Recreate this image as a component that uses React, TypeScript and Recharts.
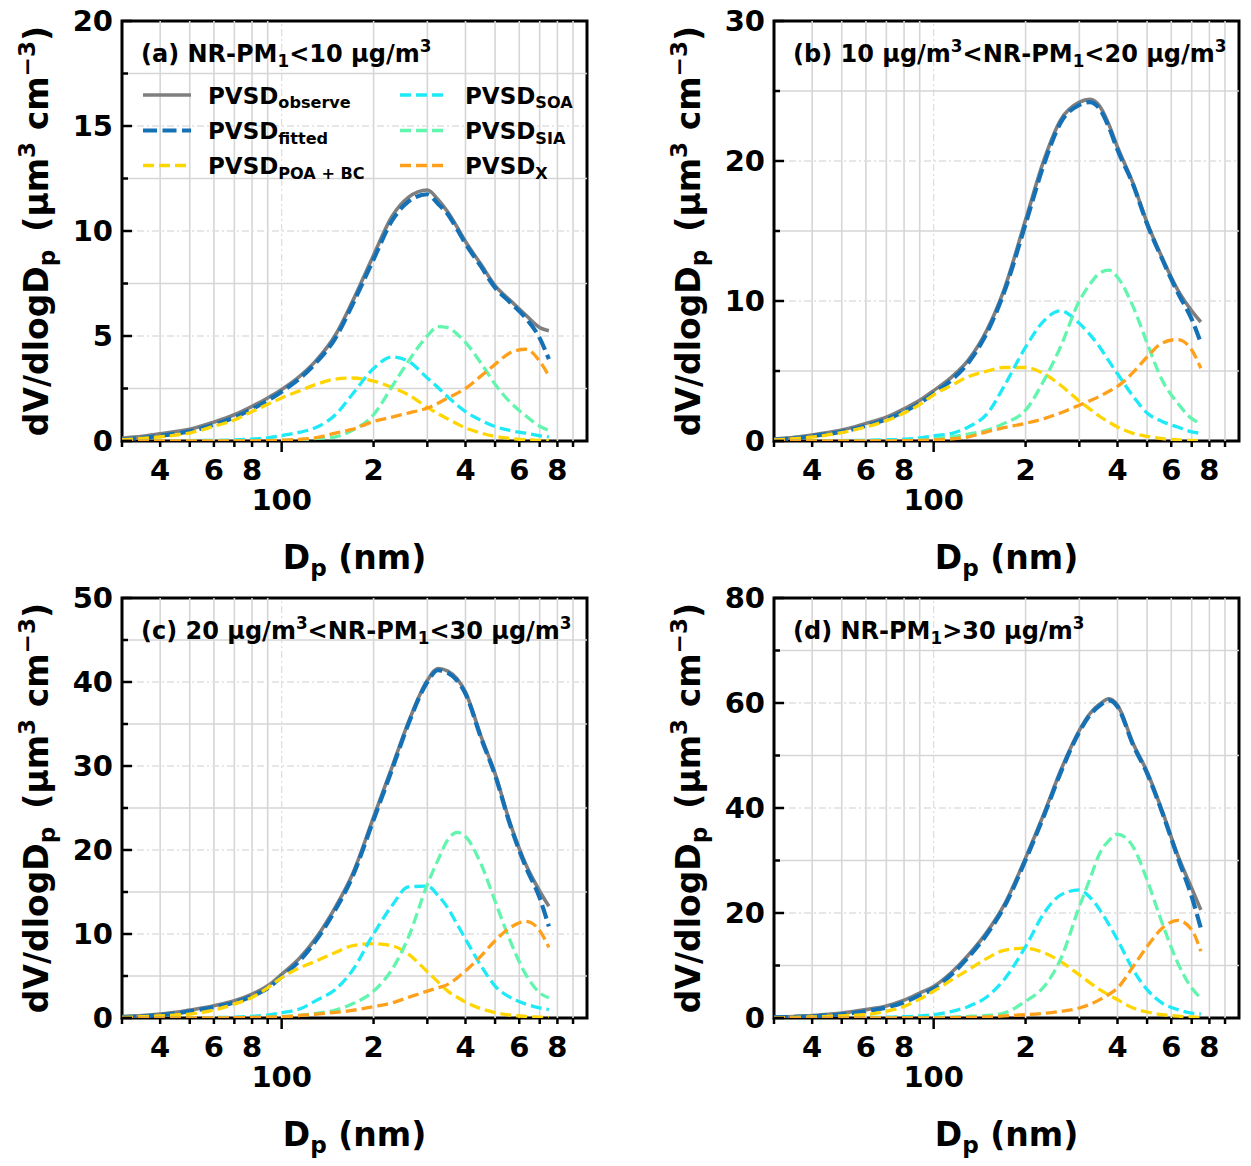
import React from 'react';
import { LineChart, Line, XAxis, YAxis, ReferenceLine, ReferenceArea } from 'recharts';

const FONT = '"DejaVu Sans", sans-serif';

// particle diameter (nm), shared by all four panels
const diameters = [30, 35, 40, 45, 50, 60, 70, 80, 90, 100, 115, 130, 150, 170, 200, 230, 260, 300, 325, 350, 375, 400, 450, 500, 560, 630, 700, 750];

// (a) NR-PM1 < 10
const observeA = [0.13, 0.22, 0.34, 0.45, 0.56, 0.9, 1.25, 1.65, 2.05, 2.45, 3.1, 3.85, 5.05, 6.6, 8.85, 10.7, 11.6, 11.95, 11.5, 10.9, 10.2, 9.5, 8.4, 7.4, 6.7, 6.0, 5.4, 5.25];
const fittedA = [0.08, 0.15, 0.25, 0.35, 0.46, 0.78, 1.12, 1.52, 1.93, 2.35, 3.0, 3.75, 4.9, 6.45, 8.65, 10.5, 11.4, 11.75, 11.3, 10.8, 10.1, 9.4, 8.3, 7.3, 6.6, 5.85, 4.9, 3.9];
const poaA = [0.06, 0.12, 0.2, 0.28, 0.38, 0.7, 1.0, 1.4, 1.75, 2.05, 2.4, 2.7, 2.95, 3.0, 2.85, 2.55, 2.2, 1.6, 1.3, 1.05, 0.82, 0.62, 0.38, 0.22, 0.12, 0.06, 0.03, 0.02];
const soaA = [0, 0, 0.01, 0.01, 0.02, 0.03, 0.05, 0.09, 0.15, 0.26, 0.42, 0.65, 1.25, 2.2, 3.45, 4.0, 3.8, 3.0, 2.55, 2.1, 1.72, 1.4, 0.98, 0.69, 0.5, 0.37, 0.25, 0.2];
const siaA = [0, 0, 0, 0, 0, 0, 0, 0.01, 0.02, 0.03, 0.06, 0.12, 0.2, 0.5, 1.25, 2.6, 3.8, 5.0, 5.45, 5.4, 5.1, 4.7, 3.7, 2.7, 1.85, 1.2, 0.7, 0.5];
const xA = [0, 0, 0, 0, 0, 0, 0.01, 0.01, 0.02, 0.04, 0.08, 0.16, 0.37, 0.55, 0.93, 1.14, 1.33, 1.57, 1.8, 2.05, 2.27, 2.5, 3.1, 3.65, 4.2, 4.37, 3.8, 3.1];

// (b) 10 < NR-PM1 < 20
const observeB = [0.14, 0.26, 0.43, 0.6, 0.78, 1.26, 1.7, 2.3, 2.9, 3.6, 4.6, 5.8, 8.0, 10.8, 15.8, 20.1, 22.9, 24.2, 24.4, 23.9, 22.6, 21.0, 18.4, 15.6, 13.1, 10.8, 9.3, 8.5];
const fittedB = [0.1, 0.2, 0.35, 0.5, 0.66, 1.1, 1.55, 2.1, 2.7, 3.4, 4.4, 5.6, 7.8, 10.6, 15.5, 19.8, 22.7, 24.0, 24.2, 23.7, 22.4, 20.8, 18.3, 15.5, 13.0, 10.6, 8.7, 7.0];
const poaB = [0.08, 0.16, 0.28, 0.43, 0.6, 1.0, 1.45, 2.0, 2.6, 3.3, 4.0, 4.6, 5.0, 5.25, 5.25, 4.8, 4.0, 2.85, 2.28, 1.75, 1.35, 1.0, 0.55, 0.33, 0.17, 0.08, 0.04, 0.02];
const soaB = [0, 0, 0.01, 0.02, 0.03, 0.05, 0.08, 0.13, 0.22, 0.36, 0.55, 1.0, 1.97, 3.9, 6.7, 8.6, 9.3, 8.4, 7.6, 6.7, 5.7, 4.8, 3.2, 2.0, 1.4, 1.0, 0.65, 0.55];
const siaB = [0, 0, 0, 0, 0, 0.01, 0.02, 0.04, 0.07, 0.15, 0.3, 0.5, 0.78, 1.26, 2.2, 4.35, 6.7, 10.0, 11.2, 12.0, 12.2, 11.7, 9.6, 7.0, 4.35, 2.7, 1.6, 1.26];
const xB = [0, 0, 0, 0, 0, 0, 0.01, 0.02, 0.04, 0.07, 0.15, 0.3, 0.67, 0.95, 1.26, 1.6, 2.0, 2.56, 2.88, 3.2, 3.55, 3.9, 4.9, 6.0, 7.0, 7.25, 6.5, 5.2];

// (c) 20 < NR-PM1 < 30
const observeC = [0.16, 0.28, 0.47, 0.67, 0.95, 1.46, 2.05, 2.85, 3.83, 5.2, 7.2, 9.6, 13.2, 17.0, 23.9, 29.9, 35.2, 40.2, 41.6, 41.3, 40.4, 38.8, 33.5, 29.1, 23.2, 18.3, 15.1, 13.3];
const fittedC = [0.1, 0.2, 0.36, 0.55, 0.8, 1.3, 1.85, 2.6, 3.55, 4.9, 6.9, 9.3, 12.9, 16.7, 23.6, 29.6, 35.0, 40.0, 41.4, 41.1, 40.2, 38.6, 33.3, 28.9, 23.0, 18.0, 14.3, 10.9];
const poaC = [0.08, 0.15, 0.25, 0.36, 0.47, 0.95, 1.66, 2.45, 3.6, 4.8, 6.0, 6.8, 7.8, 8.6, 8.85, 8.6, 7.6, 5.5, 4.3, 3.2, 2.5, 1.9, 1.1, 0.65, 0.35, 0.18, 0.1, 0.06];
const soaC = [0, 0, 0.01, 0.01, 0.02, 0.05, 0.1, 0.2, 0.35, 0.63, 1.1, 2.1, 3.4, 5.6, 10.0, 13.4, 15.6, 15.7, 14.6, 13.1, 11.2, 9.4, 6.2, 3.8, 2.45, 1.66, 1.2, 1.0];
const siaC = [0, 0, 0, 0, 0, 0.01, 0.03, 0.06, 0.1, 0.18, 0.32, 0.55, 0.95, 1.66, 3.2, 5.8, 9.6, 15.9, 18.8, 21.2, 22.1, 21.6, 18.3, 13.9, 9.2, 5.2, 3.0, 2.4];
const xC = [0, 0, 0, 0, 0, 0.01, 0.03, 0.06, 0.1, 0.15, 0.3, 0.47, 0.67, 0.9, 1.34, 1.8, 2.45, 3.2, 3.6, 4.0, 4.75, 5.6, 7.4, 9.2, 10.75, 11.5, 10.4, 8.4];

// (d) NR-PM1 > 30
const observeD = [0.2, 0.3, 0.45, 0.7, 0.95, 1.6, 2.3, 3.4, 4.75, 6.0, 8.8, 12.0, 16.5, 21.5, 30.5, 39.0, 47.0, 54.8, 58.0, 59.8, 60.8, 59.6, 52.3, 46.9, 39.5, 31.0, 24.7, 20.6];
const fittedD = [0.1, 0.2, 0.32, 0.5, 0.72, 1.3, 2.0, 3.0, 4.3, 5.6, 8.4, 11.6, 16.1, 21.1, 30.1, 38.6, 46.6, 54.5, 57.7, 59.5, 60.5, 59.3, 52.0, 46.6, 39.2, 30.6, 23.1, 17.1];
const poaD = [0.06, 0.12, 0.2, 0.3, 0.42, 0.65, 1.27, 2.2, 3.6, 5.1, 7.3, 9.2, 11.4, 12.9, 13.3, 12.4, 10.8, 8.2, 6.7, 5.4, 4.4, 3.5, 1.9, 1.14, 0.63, 0.35, 0.2, 0.12];
const soaD = [0, 0, 0, 0.01, 0.03, 0.08, 0.15, 0.25, 0.4, 0.63, 1.27, 2.2, 4.1, 7.3, 13.6, 20.0, 23.4, 24.4, 23.0, 20.6, 17.8, 14.9, 9.2, 5.4, 2.85, 1.6, 0.95, 0.76];
const siaD = [0, 0, 0, 0, 0, 0, 0.01, 0.03, 0.06, 0.1, 0.18, 0.3, 0.5, 0.95, 3.2, 6.0, 11.1, 21.2, 26.5, 31.4, 33.8, 35.0, 32.6, 26.3, 18.1, 10.5, 5.7, 3.8];
const xD = [0, 0, 0, 0, 0, 0, 0, 0, 0.01, 0.03, 0.05, 0.1, 0.2, 0.4, 0.63, 0.9, 1.27, 1.9, 2.6, 3.5, 4.5, 5.7, 9.8, 13.6, 17.1, 18.6, 16.8, 12.7];

// axis ticks
const xTicks = [30, 40, 50, 60, 70, 80, 90, 100, 200, 300, 400, 500, 600, 700, 800, 900];
const xTickLabels: Record<number, string> = { 40: '4', 60: '6', 80: '8', 200: '2', 400: '4', 600: '6', 800: '8' };
const yTicksA = [0, 2.5, 5, 7.5, 10, 12.5, 15, 17.5, 20];
const yTicksB = [0, 5, 10, 15, 20, 25, 30];
const yTicksC = [0, 5, 10, 15, 20, 25, 30, 35, 40, 45, 50];
const yTicksD = [0, 10, 20, 30, 40, 50, 60, 70, 80];

type Part = [string, '' | 'sub' | 'sup'];

const titleA: Part[] = [['(a) NR-PM', ''], ['1', 'sub'], ['<10 μg/m', ''], ['3', 'sup']];
const titleB: Part[] = [['(b) 10 μg/m', ''], ['3', 'sup'], ['<NR-PM', ''], ['1', 'sub'], ['<20 μg/m', ''], ['3', 'sup']];
const titleC: Part[] = [['(c) 20 μg/m', ''], ['3', 'sup'], ['<NR-PM', ''], ['1', 'sub'], ['<30 μg/m', ''], ['3', 'sup']];
const titleD: Part[] = [['(d) NR-PM', ''], ['1', 'sub'], ['>30 μg/m', ''], ['3', 'sup']];

const series = [
  { key: 'observe', sub: 'observe', color: '#7f7f7f', width: 3.6, dash: undefined as string | undefined },
  { key: 'fitted', sub: 'fitted', color: '#1571b6', width: 4.2, dash: '14 5.5' },
  { key: 'poa', sub: 'POA + BC', color: '#ffd500', width: 3.3, dash: '11 5' },
  { key: 'soa', sub: 'SOA', color: '#1ee9f7', width: 3.3, dash: '11 5' },
  { key: 'sia', sub: 'SIA', color: '#62f5ad', width: 3.3, dash: '11 5' },
  { key: 'x', sub: 'X', color: '#ffa01a', width: 3.3, dash: '11 5' },
];

const panels = [
  { id: 'a', left: 0, top: 0, yMax: 20, yStep: 5, yTicks: yTicksA, title: titleA, values: [observeA, fittedA, poaA, soaA, siaA, xA], legend: true },
  { id: 'b', left: 652, top: 0, yMax: 30, yStep: 10, yTicks: yTicksB, title: titleB, values: [observeB, fittedB, poaB, soaB, siaB, xB], legend: false },
  { id: 'c', left: 0, top: 577, yMax: 50, yStep: 10, yTicks: yTicksC, title: titleC, values: [observeC, fittedC, poaC, soaC, siaC, xC], legend: false },
  { id: 'd', left: 652, top: 577, yMax: 80, yStep: 20, yTicks: yTicksD, title: titleD, values: [observeD, fittedD, poaD, soaD, siaD, xD], legend: false },
];

const W = 600;
const H = 600;
const PLOT_LEFT = 122;
const PLOT_TOP = 21;
const PLOT_W = 465;
const PLOT_H = 420;

function rich(parts: Part[], size: number) {
  let off = 0;
  return parts.map(([t, k], i) => {
    const target = k === 'sub' ? size * 0.2 : k === 'sup' ? -size * 0.4 : 0;
    const dy = target - off;
    off = target;
    return (
      <tspan key={i} dy={dy} fontSize={k ? size * 0.7 : size} style={{ whiteSpace: 'pre' }}>
        {t}
      </tspan>
    );
  });
}

function XTick(props: any) {
  const { x, y, payload } = props;
  const v = payload.value;
  const label = xTickLabels[v];
  const major = v === 100;
  return (
    <g>
      <line x1={x} x2={x} y1={y} y2={y + (major ? 11 : 6)} stroke="#000" strokeWidth={2.5} />
      {label && (
        <text x={x} y={y + 39} textAnchor="middle" fontFamily={FONT} fontWeight="bold" fontSize={29} fill="#000">
          {label}
        </text>
      )}
      {major && (
        <text x={x} y={y + 69} textAnchor="middle" fontFamily={FONT} fontWeight="bold" fontSize={29} fill="#000">
          100
        </text>
      )}
    </g>
  );
}

function YTick(props: any, step: number) {
  const { x, y, payload } = props;
  const v = payload.value;
  const major = Math.abs(v / step - Math.round(v / step)) < 1e-6;
  return (
    <g>
      <line x1={x} x2={x + (major ? 10 : 6)} y1={y} y2={y} stroke="#000" strokeWidth={2.5} />
      {major && (
        <text x={x - 9} y={y} dy="0.36em" textAnchor="end" fontFamily={FONT} fontWeight="bold" fontSize={29} fill="#000">
          {v}
        </text>
      )}
    </g>
  );
}

const xLabel: Part[] = [['D', ''], ['p', 'sub'], [' (nm)', '']];
const yLabel: Part[] = [['dV/dlogD', ''], ['p', 'sub'], [' \u2009(μm', ''], ['3', 'sup'], [' cm', ''], ['−3', 'sup'], [')', '']];

function XLabel(props: any) {
  const vb = props.viewBox;
  return (
    <text x={vb.x + vb.width / 2} y={vb.y + 128} textAnchor="middle" fontFamily={FONT} fontWeight="bold" fill="#000">
      {rich(xLabel, 33)}
    </text>
  );
}

function YLabel(props: any) {
  const vb = props.viewBox;
  const bx = 48;
  const cy = vb.y + vb.height / 2;
  return (
    <text x={bx} y={cy} transform={`rotate(-90, ${bx}, ${cy})`} textAnchor="middle" fontFamily={FONT} fontWeight="bold" fill="#000">
      {rich(yLabel, 33)}
    </text>
  );
}

function Legend() {
  const rows = [95, 130.5, 165.5];
  const cols = [143, 400];
  return (
    <g>
      {series.map((s, i) => {
        const col = i < 3 ? 0 : 1;
        const y = rows[i % 3];
        const x = cols[col];
        return (
          <g key={s.key}>
            <line x1={x} x2={x + 48} y1={y} y2={y} stroke={s.color} strokeWidth={s.width} strokeDasharray={s.dash} />
            <text x={x + 65} y={y + 8.5} fontFamily={FONT} fontWeight="bold" fill="#000">
              {rich([['PVSD', ''], [s.sub, 'sub']], 23)}
            </text>
          </g>
        );
      })}
    </g>
  );
}

function Panel({ panel }: { panel: (typeof panels)[number] }) {
  const data = diameters.map((d, i) => {
    const row: Record<string, number> = { d };
    series.forEach((s, j) => {
      row[s.key] = panel.values[j][i];
    });
    return row;
  });
  const gridY = panel.yTicks.slice(1, -1);
  const gridX = xTicks.slice(1);

  return (
    <div style={{ position: 'absolute', left: panel.left, top: panel.top, width: W, height: H }}>
      <LineChart width={W} height={H} data={data} margin={{ top: PLOT_TOP, right: W - PLOT_LEFT - PLOT_W, bottom: 0, left: 0 }}>
        <XAxis
          dataKey="d"
          type="number"
          scale="log"
          domain={[30, 1000]}
          ticks={xTicks}
          interval={0}
          allowDataOverflow
          height={H - PLOT_TOP - PLOT_H}
          axisLine={false}
          tickLine={false}
          tickSize={0}
          tickMargin={0}
          tick={XTick}
          label={XLabel}
        />
        <YAxis
          type="number"
          domain={[0, panel.yMax]}
          ticks={panel.yTicks}
          interval={0}
          allowDataOverflow
          width={PLOT_LEFT}
          axisLine={false}
          tickLine={false}
          tickSize={0}
          tickMargin={0}
          tick={(p: any) => YTick(p, panel.yStep)}
          label={YLabel}
        />
        {gridX.map((v) => (
          <ReferenceLine
            key={'gx' + v}
            x={v}
            stroke={v === 100 ? '#e0e0e0' : '#d6d6d6'}
            strokeWidth={v === 100 ? 1.3 : 1.6}
            strokeDasharray={v === 100 ? '7 3 2 3' : undefined}
          />
        ))}
        {gridY.map((v) => {
          const major = Math.abs(v / panel.yStep - Math.round(v / panel.yStep)) < 1e-6;
          return (
            <ReferenceLine
              key={'gy' + v}
              y={v}
              stroke={major ? '#e0e0e0' : '#d6d6d6'}
              strokeWidth={major ? 1.3 : 1.6}
              strokeDasharray={major ? '7 3 2 3' : undefined}
            />
          );
        })}
        {series.map((s) => (
          <Line
            key={s.key}
            dataKey={s.key}
            type="monotone"
            stroke={s.color}
            strokeWidth={s.width}
            strokeDasharray={s.dash}
            dot={false}
            activeDot={false}
            isAnimationActive={false}
          />
        ))}
        <ReferenceArea x1={30} x2={1000} y1={0} y2={panel.yMax} fill="none" fillOpacity={0} stroke="#000" strokeWidth={3} />
      </LineChart>
      <svg width={W} height={H} style={{ position: 'absolute', left: 0, top: 0, pointerEvents: 'none' }}>
        <text x={141} y={PLOT_TOP + 41} fontFamily={FONT} fontWeight="bold" fill="#000">
          {rich(panel.title, 24)}
        </text>
        {panel.legend && <Legend />}
      </svg>
    </div>
  );
}

export default function App() {
  return (
    <div style={{ position: 'relative', width: 1251, height: 1166, background: '#fff', overflow: 'hidden' }}>
      <style>{'body{margin:0;}'}</style>
      {panels.map((p) => (
        <Panel key={p.id} panel={p} />
      ))}
    </div>
  );
}
